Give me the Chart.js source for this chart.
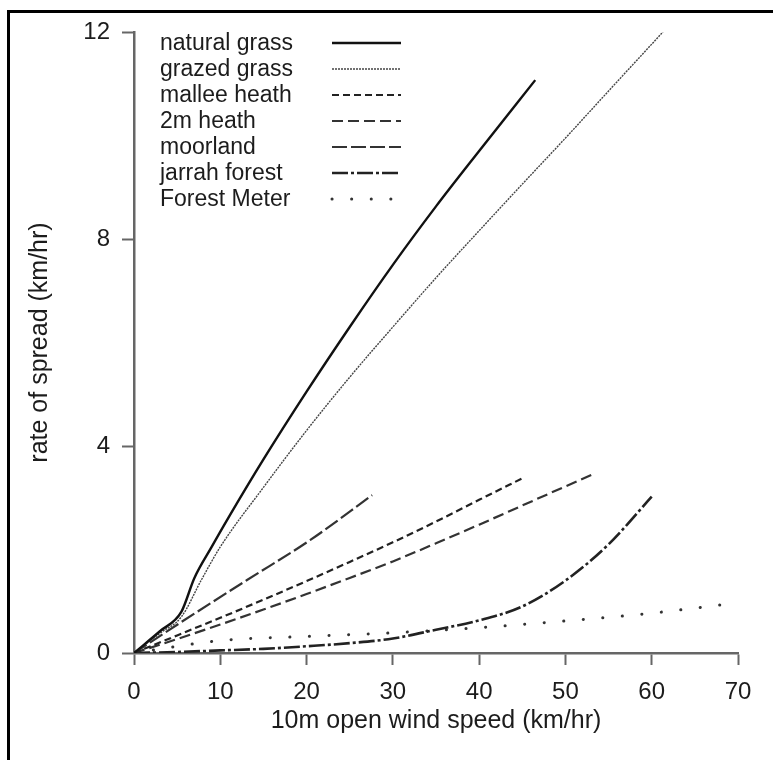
<!DOCTYPE html>
<html>
<head>
<script src="https://cdn.jsdelivr.net/npm/chart.js"></script>
<style>
  body { margin: 0; background: #fff; }
</style>
</head>
<body>
<canvas id="myChart" width="773" height="760"></canvas>
<script>
    // values (x = wind speed km/hr, y = rate of spread km/hr)
    const naturalGrassSpeed = [0, 3, 5.5, 7, 9, 11, 15, 20, 25, 30, 35, 40, 46.5];
    const naturalGrassRate  = [0, 0.42, 0.8, 1.45, 2.05, 2.63, 3.74, 5.05, 6.3, 7.5, 8.63, 9.7, 11.07];

    const grazedGrassSpeed = [0, 3, 5.5, 7.8, 10, 15, 20, 25, 30, 35, 40, 45, 50, 55, 61.3];
    const grazedGrassRate  = [0, 0.38, 0.7, 1.41, 2.05, 3.2, 4.3, 5.33, 6.3, 7.25, 8.16, 9.06, 9.95, 10.86, 12.0];

    const malleeSpeed = [0, 5, 10, 15, 20, 25, 30, 35, 40, 45.3];
    const malleeRate  = [0, 0.34, 0.68, 1.03, 1.39, 1.76, 2.14, 2.54, 2.96, 3.4];

    const heath2mSpeed = [0, 5, 10, 15, 20, 25, 30, 35, 40, 45, 50, 53.4];
    const heath2mRate  = [0, 0.27, 0.55, 0.84, 1.14, 1.45, 1.77, 2.12, 2.48, 2.85, 3.22, 3.47];

    const moorlandSpeed = [0, 5.5, 13.1, 20.4, 27.6];
    const moorlandRate  = [0, 0.6, 1.41, 2.18, 3.05];

    const jarrahSpeed = [0, 5, 10, 15, 20, 25, 30, 35, 40, 45, 50, 55, 60];
    const jarrahRate  = [0, 0.02, 0.05, 0.08, 0.13, 0.19, 0.28, 0.45, 0.63, 0.9, 1.4, 2.1, 3.02];

    const forestMeterSpeed = [0, 10, 20, 30, 40, 50, 60, 70];
    const forestMeterRate  = [0, 0.24, 0.32, 0.39, 0.49, 0.62, 0.77, 0.97];

    const xTicks = [0, 10, 20, 30, 40, 50, 60, 70];
    const yTicks = [0, 4, 8, 12];

    const FONT = "'Liberation Sans', Arial, Helvetica, sans-serif";
    const TEXT = '#1c1c1c';

    function pts(xs, ys) {
        return xs.map((x, i) => ({x: x, y: ys[i]}));
    }

    function series(label, xs, ys, color, width, dash, cap) {
        return {
            label: label,
            data: pts(xs, ys),
            borderColor: color,
            borderWidth: width,
            borderDash: dash,
            borderCapStyle: cap || 'butt',
            showLine: true,
            pointRadius: 0,
            fill: false,
            cubicInterpolationMode: 'monotone'
        };
    }

    // frame around the figure and the legend drawn at the top left of the plot
    const figureExtras = {
        id: 'figureExtras',
        afterDraw(chart) {
            const c = chart.ctx;
            const area = chart.chartArea;
            c.save();
            c.strokeStyle = '#000';
            c.lineWidth = 3;
            c.beginPath();
            c.moveTo(8.5, 800);
            c.lineTo(8.5, 11.5);
            c.lineTo(800, 11.5);
            c.stroke();

            c.font = '23px ' + FONT;
            c.fillStyle = TEXT;
            c.textBaseline = 'middle';
            c.textAlign = 'left';
            chart.data.datasets.forEach((ds, i) => {
                const y = area.top + 11 + i * 26;
                c.fillText(ds.label, area.left + 26, y + 1);
                c.strokeStyle = ds.borderColor;
                c.lineWidth = ds.borderWidth;
                c.lineCap = ds.borderCapStyle;
                c.setLineDash(ds.borderDash);
                c.beginPath();
                c.moveTo(area.left + 198, y);
                c.lineTo(area.left + 267, y);
                c.stroke();
                c.setLineDash([]);
            });
            c.restore();
        }
    };

    const ctx = document.getElementById('myChart');
    const myChart = new Chart(ctx, {
        type: 'scatter',
        data: {
            datasets: [
                series('natural grass', naturalGrassSpeed, naturalGrassRate, '#111', 2.4, []),
                series('grazed grass', grazedGrassSpeed, grazedGrassRate, '#444', 1.4, [2, 1]),
                series('mallee heath', malleeSpeed, malleeRate, '#222', 2.2, [7, 4]),
                series('2m heath', heath2mSpeed, heath2mRate, '#333', 2.2, [11, 5]),
                series('moorland', moorlandSpeed, moorlandRate, '#333', 2.2, [15, 4]),
                series('jarrah forest', jarrahSpeed, jarrahRate, '#222', 2.6, [16, 3, 3, 3]),
                series('Forest Meter', forestMeterSpeed, forestMeterRate, '#333', 3, [0.1, 19.5], 'round')
            ]
        },
        options: {
            responsive: false,
            devicePixelRatio: 1,
            animation: false,
            layout: { padding: { left: 0, top: 32, right: 35, bottom: 0 } },
            plugins: {
                legend: { display: false },
                tooltip: { enabled: false }
            },
            scales: {
                x: {
                    type: 'linear',
                    min: 0,
                    max: 70,
                    afterFit(scale) { scale.height = 107; },
                    afterBuildTicks(scale) { scale.ticks = xTicks.map(v => ({value: v})); },
                    grid: { drawOnChartArea: false, drawTicks: true, tickLength: 12, tickWidth: 2, color: '#666' },
                    border: { display: true, color: '#666', width: 2.5 },
                    ticks: { color: TEXT, font: { family: FONT, size: 24 }, padding: 13, maxRotation: 0 },
                    title: {
                        display: true,
                        text: '10m open wind speed (km/hr)',
                        color: TEXT,
                        font: { family: FONT, size: 25 },
                        padding: { top: 0, bottom: 24 }
                    }
                },
                y: {
                    type: 'linear',
                    min: 0,
                    max: 12,
                    afterFit(scale) { scale.width = 134; },
                    afterBuildTicks(scale) { scale.ticks = yTicks.map(v => ({value: v})); },
                    grid: { drawOnChartArea: false, drawTicks: true, tickLength: 12, tickWidth: 2, color: '#666' },
                    border: { display: true, color: '#666', width: 2.5 },
                    ticks: { color: TEXT, font: { family: FONT, size: 24 }, padding: 12 },
                    title: {
                        display: true,
                        text: 'rate of spread (km/hr)',
                        color: TEXT,
                        font: { family: FONT, size: 25 },
                        padding: { top: 25, bottom: 0 }
                    }
                }
            }
        },
        plugins: [figureExtras]
    });
</script>
</body>
</html>
